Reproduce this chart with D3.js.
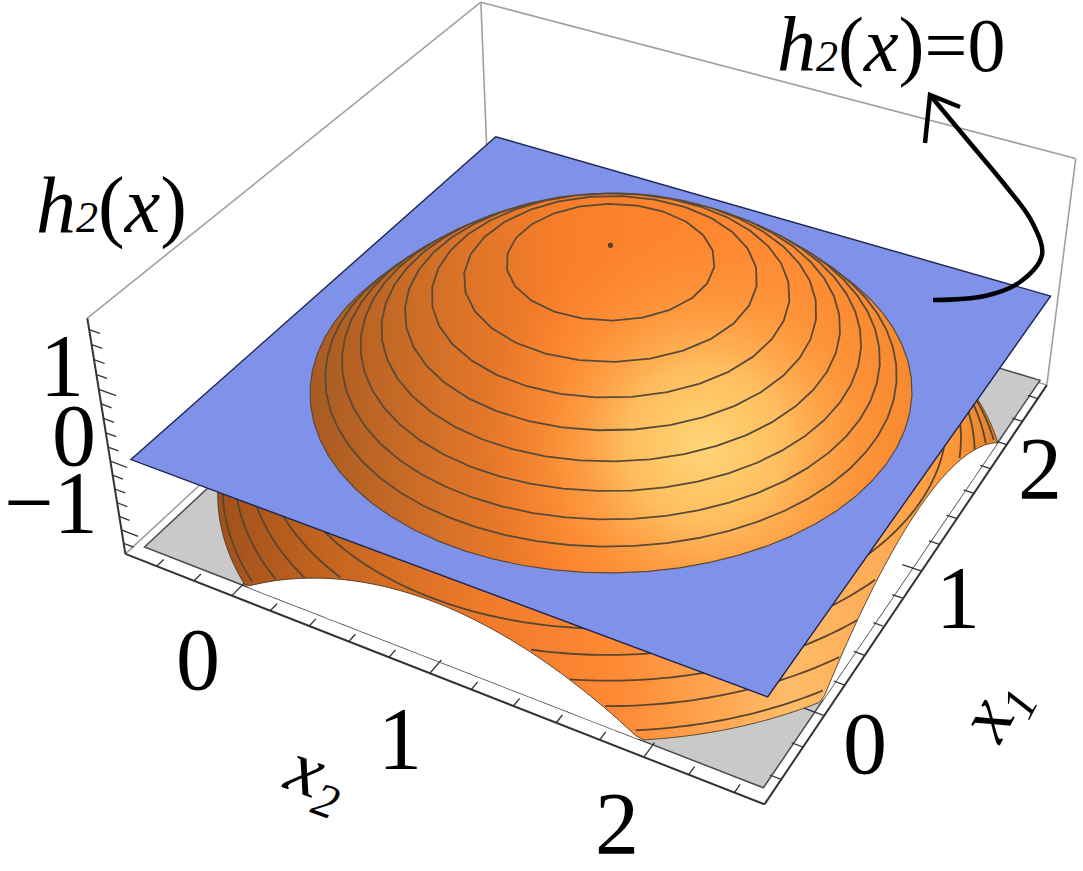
<!DOCTYPE html>
<html><head><meta charset="utf-8">
<script src="https://cdnjs.cloudflare.com/ajax/libs/d3/7.8.5/d3.min.js"></script>
<style>html,body{margin:0;background:#fff}svg{display:block}text{font-family:"Liberation Serif",serif;fill:#000}</style>
</head><body><svg id="c" width="1083" height="871"></svg>
<script>
// ---- chart values (x1, x2, h units) ----
const x1Ticks = [-0.4,-0.2,0,0.2,0.4,0.6,0.8,1,1.2,1.4,1.6,1.8,2,2.2,2.4];
const x2Ticks = [-0.4,-0.2,0,0.2,0.4,0.6,0.8,1,1.2,1.4,1.6,1.8,2,2.2,2.4];
const hTicks  = [-1.2,-1,-0.8,-0.6,-0.4,-0.2,0,0.2,0.4,0.6,0.8,1,1.2,1.4,1.6,1.8];
const majorTicks = [-1,0,1,2];
const contourLevels = [1.6,1.4,1.2,1.0,0.8,0.6,0.4,0.2,0,-0.2,-0.4,-0.6,-0.8,-1.0,-1.2];
const contourRadii  = [0.447,0.632,0.774,0.893,0.999,1.094,1.18,1.258,1.33,1.418,1.492,1.562,1.629,1.694,1.755];
const summit = {x1:1, x2:1, h:1.8};
const floorLevel = -1.28, floorRadius = 1.78;
const domainLo = -0.5, domainHi = 2.5;
const boxX1 = [-0.55,2.52], boxX2 = [-0.57,2.53], boxH = [-1.36,1.95];

// camera anchors: scene point -> picture position, solved into one projection
const anchorScene = [[-.55,-.57,-1.36],[-.55,2.53,-1.36],[2.52,2.53,-1.36],[-.55,-.57,1.95],[2.52,2.53,1.95],[2.52,-.57,1.95],[-.55,2.53,1.95],
 [-.55,0,-1.36],[-.55,1,-1.36],[-.55,2,-1.36],[0,2.53,-1.36],[1,2.53,-1.36],[2,2.53,-1.36],
 [-.55,-.57,1],[-.55,-.57,0],[-.55,-.57,-1],[-.5,-.5,0],[2.5,-.5,0],[2.5,2.5,0],[-.5,2.5,0],[1,1,1.8],
 [-.5,-.5,-1.28],[-.5,2.5,-1.28],[2.5,2.5,-1.28]];
const anchorPicture = [[125,556],[770,808],[1048,383],[87,322],[1086,163],[491,3],[762,557],
 [233,595],[432,672],[647,757],[828,717],[925,573],[1007,447],
 [98,390],[110,462],[121,530],[130,456],[487,135],[1045,292],[768,690],[608,242],
 [145,547],[763,788],[1032,382]];

function solve(A,b){const n=b.length,M=A.map((r,i)=>[...r,b[i]]);
 for(let i=0;i<n;i++){let p=i;for(let j=i+1;j<n;j++)if(Math.abs(M[j][i])>Math.abs(M[p][i]))p=j;[M[i],M[p]]=[M[p],M[i]];
  for(let j=i+1;j<n;j++){const f=M[j][i]/M[i][i];for(let k=i;k<=n;k++)M[j][k]-=f*M[i][k];}}
 const x=Array(n).fill(0);for(let i=n-1;i>=0;i--){let s=M[i][n];for(let k=i+1;k<n;k++)s-=M[i][k]*x[k];x[i]=s/M[i][i];}return x;}
const P=(()=>{const rows=[],rhs=[];anchorScene.forEach((s,i)=>{const u=anchorPicture[i][0]/1000,v=anchorPicture[i][1]/1000,[a,b,c]=s;
  rows.push([a,b,c,1,0,0,0,0,-u*a,-u*b,-u*c]);rhs.push(u);rows.push([0,0,0,0,a,b,c,1,-v*a,-v*b,-v*c]);rhs.push(v);});
 const AtA=d3.range(11).map(i=>d3.range(11).map(j=>d3.sum(rows,r=>r[i]*r[j])));
 const Atb=d3.range(11).map(i=>d3.sum(rows,(r,k)=>r[i]*rhs[k]));return solve(AtA,Atb);})();
const project=([a,b,c])=>{const w=P[8]*a+P[9]*b+P[10]*c+1;return [1000*(P[0]*a+P[1]*b+P[2]*c+P[3])/w,1000*(P[4]*a+P[5]*b+P[6]*c+P[7])/w];};

const svg=d3.select("#c");
const defs=svg.append("defs");
function grad(id,stops,x1,x2){const g=defs.append("linearGradient").attr("id",id).attr("gradientUnits","userSpaceOnUse").attr("x1",x1).attr("x2",x2).attr("y1",0).attr("y2",0);
 stops.forEach(s=>g.append("stop").attr("offset",(s[0]-x1)/(x2-x1)).attr("stop-color",s[1]));}
grad("lowerShade",[[215,"#a0501c"],[330,"#c4651f"],[480,"#ee7a2a"],[620,"#ff8a35"],[790,"#ffbc68"],[880,"#ffab55"],[950,"#ff9838"],[990,"#e8842e"]],215,990);
grad("domeShade",[[305,"#a55a22"],[450,"#d87228"],[570,"#fb7f2a"],[780,"#ff8a32"],[918,"#f78a30"]],305,918);
const rg=defs.append("radialGradient").attr("id","domeLight").attr("gradientUnits","userSpaceOnUse").attr("cx",705).attr("cy",445).attr("r",225);
[[0,"#ffd677",1],[0.35,"#ffc767",.85],[0.7,"#ffa548",.35],[1,"#ff9038",0]].forEach(s=>rg.append("stop").attr("offset",s[0]).attr("stop-color",s[1]).attr("stop-opacity",s[2]));

const linePath=d3.line().x(d=>d[0]).y(d=>d[1]);
const closedPath=d3.line().x(d=>d[0]).y(d=>d[1]).curve(d3.curveLinearClosed);
const cx=summit.x1, cy=summit.x2, wall=domainHi-cx;
const heightAt=d3.scaleLinear().domain([0,...contourRadii,floorRadius]).range([summit.h,...contourLevels,floorLevel]);
const segment=(a,b,col,w)=>svg.append("path").attr("d",linePath([project(a),project(b)])).attr("fill","none").attr("stroke",col).attr("stroke-width",w);
const bound=t=>Math.min(floorRadius,wall/Math.max(Math.abs(Math.cos(t)),Math.abs(Math.sin(t))));
const degs=d3.range(0,360,1).map(d=>d*Math.PI/180);

// back of the box
const [xa,xb]=boxX1,[ya,yb]=boxX2,[za,zb]=boxH;
[[[xa,ya,zb],[xb,ya,zb]],[[xb,ya,zb],[xb,yb,zb]],[[xb,yb,zb],[xb,yb,za]],[[xb,ya,zb],[xb,ya,za]],[[xa,ya,za],[xb,ya,za]],[[xb,ya,za],[xb,yb,za]]]
 .forEach(e=>segment(e[0],e[1],"#a0a0a0",1.6));

// clipped floor
svg.append("path").attr("d",closedPath([[domainLo,domainLo],[domainHi,domainLo],[domainHi,domainHi],[domainLo,domainHi]].map(p=>project([p[0],p[1],floorLevel]))))
 .attr("fill","#c9c9c9").attr("stroke","#4a4a4a").attr("stroke-width",1.5);
svg.append("path").attr("d",closedPath(degs.map(t=>{const r=bound(t);return project([cx+r*Math.cos(t),cy+r*Math.sin(t),floorLevel]);}))).attr("fill","#fff");

// front axes and ticks
segment([xa,ya,za],[xa,yb,za],"#333",2);
segment([xa,yb,za],[xb,yb,za],"#333",2);
segment([xa,ya,za],[xa,ya,zb],"#333",2);
x2Ticks.forEach(v=>{const m=majorTicks.includes(v);segment([xa,v,za],[xa+(m?.09:.05),v,za],"#333",1.3);});
x1Ticks.forEach(v=>{const m=majorTicks.includes(v);segment([v,yb,za],[v,yb-(m?.09:.05),za],"#333",1.3);});
hTicks.forEach(v=>{const m=majorTicks.includes(v);segment([xa,ya,v],[xa,ya+(m?.09:.055),v],"#333",1.3);});

// surface below the plane
svg.append("path").attr("d",closedPath(degs.map(t=>{const r=bound(t);return project([cx+r*Math.cos(t),cy+r*Math.sin(t),heightAt(r)]);})))
 .attr("fill","url(#lowerShade)").attr("stroke","#3a2a18").attr("stroke-width",.8);
contourLevels.forEach((lev,i)=>{ if(lev>=0) return; const r=contourRadii[i];
 const pts=d3.range(0,361,1).map(d=>{const t=d*Math.PI/180;return [cx+r*Math.cos(t),cy+r*Math.sin(t),lev];});
 svg.append("path").attr("d",d3.line().defined(p=>p[0]>=domainLo&&p[0]<=domainHi&&p[1]>=domainLo&&p[1]<=domainHi).x(p=>project(p)[0]).y(p=>project(p)[1])(pts))
  .attr("fill","none").attr("stroke","#5a4630").attr("stroke-width",1.8);});

// plane h = 0
svg.append("path").attr("d",closedPath([[domainLo,domainLo],[domainHi,domainLo],[domainHi,domainHi],[domainLo,domainHi]].map(p=>project([p[0],p[1],0]))))
 .attr("fill","#7f91e9").attr("stroke","#1d2550").attr("stroke-width",1.4);

// dome, outer ring first
contourLevels.map((l,i)=>({l,r:contourRadii[i]})).filter(d=>d.l>=0).reverse().forEach(d=>{
 const n=Math.round(16+28*d.r*d.r);
 const dd=closedPath(d3.range(n).map(k=>{const t=k*2*Math.PI/n+0.05;return project([cx+d.r*Math.cos(t),cy+d.r*Math.sin(t),d.l]);}));
 svg.append("path").attr("d",dd).attr("fill","url(#domeShade)");
 svg.append("path").attr("d",dd).attr("fill","url(#domeLight)").attr("stroke","#5a4a38").attr("stroke-width",d.l===0?1.2:1.8).attr("stroke-linejoin","round");
});
const peak=project([summit.x1,summit.x2,summit.h]);
svg.append("circle").attr("cx",peak[0]).attr("cy",peak[1]).attr("r",2.6).attr("fill","#4a4038");

// labels
const label=(s,x,y,size)=>svg.append("text").attr("x",x).attr("y",y).attr("font-size",size).attr("text-anchor","middle").text(s);
[["1",62,395],["0",74,465],["\u22121",51,532],["0",198,689],["1",400,768],["2",617,853],["0",865,773],["1",958,627],["2",1040,498]]
 .forEach(d=>label(d[0],d[1],d[2],88));
function rich(x,y,rot,parts){const t=svg.append("text").attr("transform",`translate(${x},${y}) rotate(${rot})`);
 parts.forEach(p=>t.append("tspan").attr("font-size",p[1]).attr("font-style",p[2]?"italic":"normal").attr("dy",p[3]||0).text(p[0]));}
rich(282,787,20,[["x",76,true],["2",48,true,14]]);
rich(1000,745,-62,[["x",76,true],["1",48,true,14]]);
rich(36,232,0,[["h",80,true],["2",44,true],["(",80,false],["x",80,true],[")",80,false]]);
rich(777,71,0,[["h",78,true],["2",44,true],["(",78,false],["x",78,true],[")",78,false],["=0",76,false]]);

// arrow note
const arrowBody=[[933,300],[985,296],[1020,282],[1042,255],[1032,222],[1005,185],[970,143],[930,95]];
const arrowHead=[[925,143],[930,95],[960,107]];
svg.append("path").attr("d",d3.line().curve(d3.curveCatmullRom)(arrowBody)).attr("fill","none").attr("stroke","#000").attr("stroke-width",4.5);
svg.append("path").attr("d",d3.line()(arrowHead)).attr("fill","none").attr("stroke","#000").attr("stroke-width",4.5);
</script></body></html>
